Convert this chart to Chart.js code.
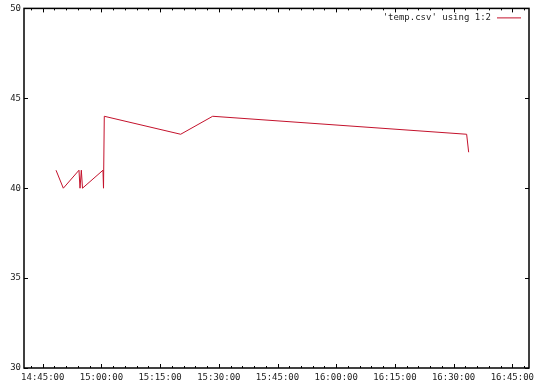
<!DOCTYPE html>
<html>
<head>
<meta charset="utf-8">
<script src="https://cdn.jsdelivr.net/npm/chart.js@4.4.1/dist/chart.umd.min.js"></script>
<style>
  body { margin: 0; background: #fff; }
  #tempChart { display: block; }
</style>
</head>
<body>
<canvas id="tempChart" width="540" height="389"></canvas>
<script>
// readings (time of day, temperature)
var times = ["14:48:24", "14:50:16", "14:54:16", "14:54:32", "14:54:52", "14:55:10",
             "15:00:24", "15:00:32", "15:00:44", "15:20:15", "15:28:26", "16:33:20", "16:33:51"];
var temps = [41, 40, 41, 40, 41, 40, 41, 40, 44, 43, 44, 43, 42];
var seriesLabel = "'temp.csv' using 1:2";

// axis range and tick spacing (seconds)
var xMinTime = "14:40:13";
var xMaxTime = "16:49:16";
var xMinorStep = 180;
var xMajorStep = 900;
var yTicks = [30, 35, 40, 45, 50];

function toSec(str) {
    var p = str.split(":");
    return (+p[0]) * 3600 + (+p[1]) * 60 + (+p[2]);
}
function pad(n) { return (n < 10 ? "0" : "") + n; }
function toLabel(sec) {
    var h = Math.floor(sec / 3600), m = Math.floor((sec % 3600) / 60), s = sec % 60;
    return pad(h) + ":" + pad(m) + ":" + pad(s);
}

var points = [];
for (var i = 0; i < times.length; i++) {
    points.push({ x: toSec(times[i]), y: temps[i] });
}

var lineColor = "#c4122c";
var tickFont = { family: "DejaVu Sans Mono", size: 9 };

// white page, gnuplot style frame with inward (mirrored) ticks, and legend
var gnuFrame = {
    id: "gnuFrame",
    beforeDraw: function(chart) {
        var c = chart.ctx;
        c.save();
        c.fillStyle = "#fff";
        c.fillRect(0, 0, chart.width, chart.height);
        c.restore();
    },
    afterDraw: function(chart) {
        var c = chart.ctx, a = chart.chartArea;
        var xs = chart.scales.x, ys = chart.scales.y;
        c.save();
        c.strokeStyle = "#000";
        c.lineWidth = 1;
        c.beginPath();
        xs.ticks.forEach(function(t) {
            var px = Math.round(xs.getPixelForValue(t.value)) + 0.5;
            var len = (t.value % xMajorStep === 0) ? 4 : 2;
            c.moveTo(px, a.bottom); c.lineTo(px, a.bottom - len);
            c.moveTo(px, a.top); c.lineTo(px, a.top + len);
        });
        ys.ticks.forEach(function(t) {
            var py = Math.round(ys.getPixelForValue(t.value)) + 0.5;
            c.moveTo(a.left, py); c.lineTo(a.left + 4, py);
            c.moveTo(a.right, py); c.lineTo(a.right - 4, py);
        });
        c.stroke();

        c.lineWidth = 1.5;
        c.strokeRect(a.left, a.top, a.right - a.left, a.bottom - a.top);

        // legend
        var ly = a.top + 9;
        c.font = "9px 'DejaVu Sans Mono'";
        c.fillStyle = "#222";
        c.textAlign = "right";
        c.textBaseline = "middle";
        c.fillText(chart.data.datasets[0].label, a.right - 38, ly);
        c.strokeStyle = lineColor;
        c.lineWidth = 1;
        c.beginPath();
        c.moveTo(a.right - 32, ly + 0.5);
        c.lineTo(a.right - 8, ly + 0.5);
        c.stroke();
        c.restore();
    }
};

var ctx = document.getElementById("tempChart");
var tempChart = new Chart(ctx, {
    type: "line",
    data: {
        datasets: [{
            label: seriesLabel,
            data: points,
            borderColor: lineColor,
            backgroundColor: lineColor,
            borderWidth: 1,
            pointRadius: 0,
            tension: 0,
            fill: false
        }]
    },
    options: {
        responsive: false,
        animation: false,
        layout: { padding: { top: 6, right: 11, left: 0, bottom: 0 } },
        plugins: {
            legend: { display: false },
            tooltip: { enabled: false }
        },
        scales: {
            x: {
                type: "linear",
                min: toSec(xMinTime),
                max: toSec(xMaxTime),
                grid: { display: false, drawTicks: false },
                border: { display: false },
                afterFit: function(s) { s.height = 21; },
                // minor ticks every 3 min, labels only on the quarter hours
                afterBuildTicks: function(s) {
                    var list = [];
                    var v = Math.ceil(s.min / xMinorStep) * xMinorStep;
                    for (; v <= s.max; v += xMinorStep) list.push({ value: v });
                    s.ticks = list;
                },
                ticks: {
                    autoSkip: false,
                    maxRotation: 0,
                    padding: 4,
                    color: "#222",
                    font: tickFont,
                    callback: function(v) {
                        return (v % xMajorStep === 0) ? toLabel(v) : "";
                    }
                }
            },
            y: {
                min: yTicks[0],
                max: yTicks[yTicks.length - 1],
                grid: { display: false, drawTicks: false },
                border: { display: false },
                afterFit: function(s) { s.width = 24; },
                ticks: {
                    stepSize: 5,
                    padding: 3,
                    color: "#222",
                    font: tickFont
                }
            }
        }
    },
    plugins: [gnuFrame]
});
</script>
</body>
</html>
